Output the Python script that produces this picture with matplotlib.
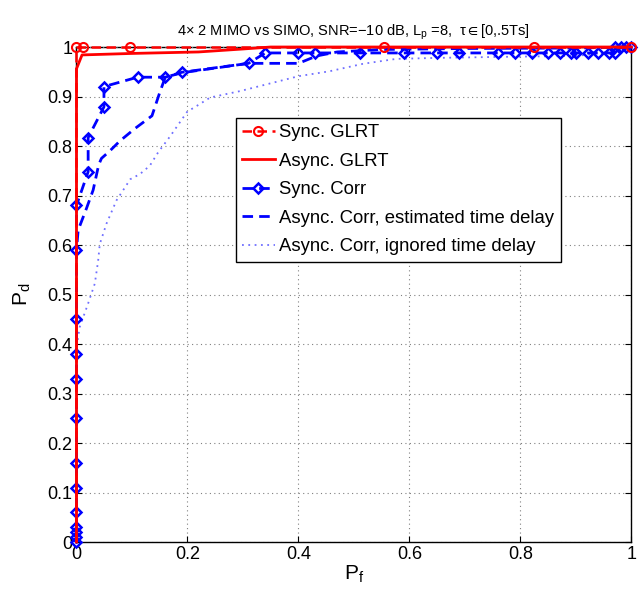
import matplotlib
matplotlib.use("Agg")
import matplotlib.pyplot as plt
from matplotlib.ticker import FuncFormatter

plt.rcParams['font.family'] = ['Liberation Sans', 'DejaVu Sans']
plt.rcParams['mathtext.fontset'] = 'custom'
plt.rcParams['mathtext.rm'] = 'Liberation Sans'
plt.rcParams['mathtext.it'] = 'Liberation Sans'
plt.rcParams['mathtext.fallback'] = 'stixsans'

# ROC curves: probability of false alarm (Pf) vs probability of detection (Pd)
sync_glrt_pf = [0, 0, 0.012, 0.097, 0.555, 0.825, 1.0]
sync_glrt_pd = [0, 1.0, 1.0, 1.0, 1.0, 1.0, 1.0]

async_glrt_pf = [0, 0, 0.010, 0.10, 0.22, 0.30, 0.35, 1.0]
async_glrt_pd = [0, 0.956, 0.984, 0.987, 0.990, 0.996, 1.0, 1.0]

sync_corr_pf = [0, 0, 0, 0, 0, 0, 0, 0, 0, 0, 0, 0, 0,
                0.021, 0.021, 0.0495, 0.0495, 0.11, 0.16, 0.19, 0.31, 0.34,
                0.40, 0.43, 0.51, 0.591, 0.65, 0.69, 0.76, 0.79, 0.82, 0.85,
                0.871, 0.891, 0.90, 0.921, 0.94, 0.96, 0.97, 0.97, 0.981,
                0.991, 1.0]
sync_corr_pd = [0, 0.01, 0.02, 0.03, 0.06, 0.11, 0.16, 0.25, 0.33, 0.38,
                0.45, 0.59, 0.68,
                0.748, 0.817, 0.879, 0.92, 0.939, 0.939, 0.949, 0.967, 0.988,
                0.988, 0.988, 0.988, 0.988, 0.988, 0.988, 0.988, 0.988, 0.988,
                0.988, 0.988, 0.988, 0.988, 0.988, 0.988, 0.988, 0.988, 1.0,
                1.0, 1.0, 1.0]

est_corr_pf = [0, 0, 0.003, 0.018, 0.03, 0.04, 0.045, 0.06, 0.078, 0.105,
               0.136, 0.15, 0.16, 0.19, 0.31, 0.40, 0.433, 0.47, 0.55, 0.70,
               0.90, 1.0]
est_corr_pd = [0, 0.59, 0.63, 0.674, 0.711, 0.762, 0.775, 0.79, 0.81, 0.835,
               0.861, 0.908, 0.939, 0.948, 0.967, 0.967, 0.982, 0.990, 0.995,
               0.997, 0.998, 1.0]

ign_corr_pf = [0, 0, 0.006, 0.021, 0.033, 0.039, 0.042, 0.054, 0.072, 0.097,
               0.114, 0.132, 0.147, 0.169, 0.20, 0.211, 0.241, 0.295, 0.33,
               0.40, 0.456, 0.516, 0.576, 0.65, 0.76, 0.90, 0.97, 1.0]
ign_corr_pd = [0, 0.394, 0.435, 0.482, 0.522, 0.568, 0.602, 0.643, 0.69,
               0.733, 0.743, 0.76, 0.787, 0.82, 0.87, 0.877, 0.898, 0.911,
               0.921, 0.941, 0.951, 0.966, 0.976, 0.978, 0.98, 0.982, 0.99,
               1.0]

x_ticks = [0, 0.2, 0.4, 0.6, 0.8, 1.0]
y_ticks = [0, 0.1, 0.2, 0.3, 0.4, 0.5, 0.6, 0.7, 0.8, 0.9, 1.0]

fig = plt.figure(figsize=(6.39, 5.95), dpi=100)
ax = fig.add_axes([0.1197, 0.089, 0.8685, 0.832])

dash = (0, (3.8, 2.2))
ax.plot(ign_corr_pf, ign_corr_pd, linestyle=(0, (1, 2.5)), color='#6f6fff',
        lw=1.3, label='Async. Corr, ignored time delay', zorder=2,
        clip_on=False)
ax.plot(est_corr_pf, est_corr_pd, linestyle=dash, color='#0000ff',
        lw=2.0, label='Async. Corr, estimated time delay', zorder=3,
        clip_on=False)
ax.plot(sync_corr_pf, sync_corr_pd, linestyle=dash, color='#0000ff',
        lw=2.0, marker='D', ms=5.4, mfc='none', mec='#0000ff', mew=1.8,
        label='Sync. Corr', zorder=4, clip_on=False)
ax.plot(async_glrt_pf, async_glrt_pd, linestyle='-', color='#ff0000', lw=2.0,
        label='Async. GLRT', zorder=5, clip_on=False)
ax.plot(sync_glrt_pf, sync_glrt_pd, linestyle=dash, color='#ff0000',
        lw=1.8, marker='o', ms=6.5, mfc='none', mec='#ff0000', mew=1.5,
        markevery=list(range(1, len(sync_glrt_pf))),
        label='Sync. GLRT', zorder=6, clip_on=False)

ax.set_xlim(0, 1)
ax.set_ylim(0, 1)
ax.set_xticks(x_ticks)
ax.set_yticks(y_ticks)
fmt = FuncFormatter(lambda v, p: ('%g' % v))
ax.xaxis.set_major_formatter(fmt)
ax.yaxis.set_major_formatter(fmt)
ax.tick_params(direction='in', length=4, width=0.8, top=True, right=True,
               labelsize=13, pad=3)
ax.grid(True, linestyle=(0, (1, 3)), color='#808080', lw=0.8)
for s in ax.spines.values():
    s.set_linewidth(1.0)
    s.set_zorder(1.5)

ax.set_xlabel('P$_\\mathregular{f}$', fontsize=15, labelpad=0)
ax.set_ylabel('P$_\\mathregular{d}$', fontsize=15, labelpad=10)
ax.set_title('4\u00d7 2 MIMO vs SIMO, SNR=\u221210 dB, L$_\\mathregular{p}$ =8,  \u03c4$\\in$[0,.5Ts]',
             fontsize=10.5, pad=8)

handles, labels = ax.get_legend_handles_labels()
order = [4, 3, 2, 1, 0]
leg = ax.legend([handles[i] for i in order], [labels[i] for i in order],
                loc='upper left', bbox_to_anchor=(0.287, 0.857),
                fontsize=13.3, frameon=True, fancybox=False, edgecolor='black',
                framealpha=1, handlelength=1.75, handletextpad=0.25,
                labelspacing=0.62, borderpad=0.35, borderaxespad=0)
leg.get_frame().set_linewidth(1.0)
leg.set_zorder(20)

fig.savefig('out.png', dpi=100)
